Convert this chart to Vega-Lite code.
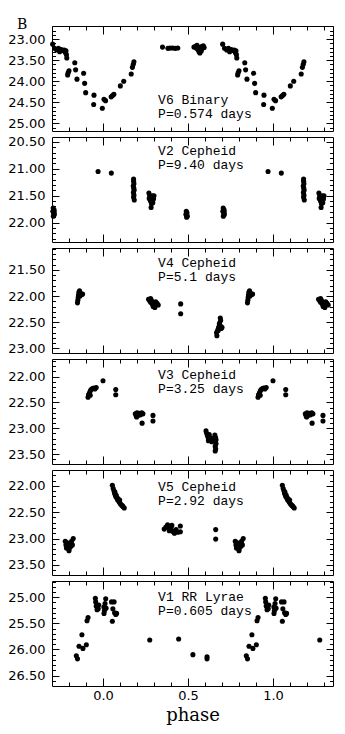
{
"$schema":"https://vega.github.io/schema/vega-lite/v6.json",
"padding":{"left":7,"top":18,"right":5,"bottom":5},
"title":{"text":"B","anchor":"start","frame":"group","font":"DejaVu Serif","fontSize":14,"fontWeight":"normal","color":"black","dx":-35,"offset":-7},
"config":{"view":{"stroke":"black","strokeWidth":1},"axis":{"domain":false,"grid":false,"tickColor":"black","tickWidth":1,"labelColor":"black","labelFont":"DejaVu Sans","labelFontSize":13,"labelOverlap":false}},
"spacing":6,
"bounds":"flush",
"datasets":{
"labels":[
{"panel":"V6","phase":0.324,"mag":24.54,"label":"V6 Binary\nP=0.574 days"},
{"panel":"V2","phase":0.324,"mag":20.75,"label":"V2 Cepheid\nP=9.40 days"},
{"panel":"V4","phase":0.324,"mag":21.45,"label":"V4 Cepheid\nP=5.1 days"},
{"panel":"V3","phase":0.324,"mag":22.05,"label":"V3 Cepheid\nP=3.25 days"},
{"panel":"V5","phase":0.324,"mag":22.09,"label":"V5 Cepheid\nP=2.92 days"},
{"panel":"V1","phase":0.324,"mag":25.08,"label":"V1 RR Lyrae\nP=0.605 days"}
],
"v6":[
{"phase":-0.296,"mag":23.12},{"phase":-0.285,"mag":23.22},{"phase":-0.272,"mag":23.26},{"phase":-0.262,"mag":23.22},{"phase":-0.255,"mag":23.30},{"phase":-0.245,"mag":23.25},{"phase":-0.236,"mag":23.27},{"phase":-0.228,"mag":23.26},{"phase":-0.222,"mag":23.32},{"phase":-0.218,"mag":23.28},{"phase":-0.215,"mag":23.37},{"phase":-0.213,"mag":23.45},{"phase":-0.208,"mag":23.85},{"phase":-0.205,"mag":23.80},{"phase":-0.200,"mag":23.75},{"phase":-0.166,"mag":23.56},{"phase":-0.161,"mag":23.73},{"phase":-0.153,"mag":23.95},{"phase":-0.114,"mag":23.81},{"phase":-0.108,"mag":24.05},{"phase":-0.102,"mag":24.27},{"phase":-0.053,"mag":24.33},{"phase":-0.055,"mag":24.55},{"phase":-0.004,"mag":24.64},{"phase":0.006,"mag":24.43},{"phase":0.015,"mag":24.46},{"phase":0.048,"mag":24.37},{"phase":0.056,"mag":24.34},{"phase":0.064,"mag":24.31},{"phase":0.102,"mag":24.11},{"phase":0.122,"mag":24.00},{"phase":0.166,"mag":23.83},{"phase":0.173,"mag":23.67},{"phase":0.178,"mag":23.60},{"phase":0.182,"mag":23.54},
{"phase":0.704,"mag":23.12},{"phase":0.715,"mag":23.22},{"phase":0.728,"mag":23.26},{"phase":0.738,"mag":23.22},{"phase":0.745,"mag":23.30},{"phase":0.755,"mag":23.25},{"phase":0.764,"mag":23.27},{"phase":0.772,"mag":23.26},{"phase":0.778,"mag":23.32},{"phase":0.782,"mag":23.28},{"phase":0.785,"mag":23.37},{"phase":0.787,"mag":23.45},{"phase":0.792,"mag":23.85},{"phase":0.795,"mag":23.80},{"phase":0.800,"mag":23.75},{"phase":0.834,"mag":23.56},{"phase":0.839,"mag":23.73},{"phase":0.847,"mag":23.95},{"phase":0.886,"mag":23.81},{"phase":0.892,"mag":24.05},{"phase":0.898,"mag":24.27},{"phase":0.947,"mag":24.33},{"phase":0.945,"mag":24.55},{"phase":0.996,"mag":24.64},{"phase":1.006,"mag":24.43},{"phase":1.015,"mag":24.46},{"phase":1.048,"mag":24.37},{"phase":1.056,"mag":24.34},{"phase":1.064,"mag":24.31},{"phase":1.102,"mag":24.11},{"phase":1.122,"mag":24.00},{"phase":1.166,"mag":23.83},{"phase":1.173,"mag":23.67},{"phase":1.178,"mag":23.60},{"phase":1.182,"mag":23.54},
{"phase":0.350,"mag":23.19},{"phase":0.382,"mag":23.22},{"phase":0.395,"mag":23.21},{"phase":0.410,"mag":23.21},{"phase":0.425,"mag":23.22},{"phase":0.440,"mag":23.21},
{"phase":0.535,"mag":23.19},{"phase":0.545,"mag":23.17},{"phase":0.550,"mag":23.22},{"phase":0.557,"mag":23.20},{"phase":0.560,"mag":23.26},{"phase":0.565,"mag":23.30},{"phase":0.570,"mag":23.33},{"phase":0.575,"mag":23.25},{"phase":0.580,"mag":23.18},{"phase":0.585,"mag":23.22},{"phase":0.590,"mag":23.16},{"phase":0.595,"mag":23.20},{"phase":0.570,"mag":23.20},{"phase":0.553,"mag":23.15},{"phase":0.578,"mag":23.28}
],
"v2":[
{"phase":-0.293,"mag":21.73},{"phase":-0.288,"mag":21.76},{"phase":-0.295,"mag":21.79},{"phase":-0.290,"mag":21.82},{"phase":-0.286,"mag":21.85},{"phase":-0.292,"mag":21.88},{"phase":-0.287,"mag":21.80},
{"phase":0.707,"mag":21.73},{"phase":0.712,"mag":21.76},{"phase":0.705,"mag":21.79},{"phase":0.710,"mag":21.82},{"phase":0.714,"mag":21.85},{"phase":0.708,"mag":21.88},{"phase":0.713,"mag":21.80},
{"phase":-0.029,"mag":21.05},{"phase":0.971,"mag":21.05},{"phase":0.049,"mag":21.08},{"phase":1.049,"mag":21.08},
{"phase":0.180,"mag":21.19},{"phase":0.180,"mag":21.23},{"phase":0.182,"mag":21.28},{"phase":0.178,"mag":21.32},{"phase":0.181,"mag":21.36},{"phase":0.183,"mag":21.40},{"phase":0.179,"mag":21.44},{"phase":0.182,"mag":21.49},{"phase":0.180,"mag":21.53},{"phase":0.184,"mag":21.58},
{"phase":1.180,"mag":21.19},{"phase":1.180,"mag":21.23},{"phase":1.182,"mag":21.28},{"phase":1.178,"mag":21.32},{"phase":1.181,"mag":21.36},{"phase":1.183,"mag":21.40},{"phase":1.179,"mag":21.44},{"phase":1.182,"mag":21.49},{"phase":1.180,"mag":21.53},{"phase":1.184,"mag":21.58},
{"phase":0.270,"mag":21.45},{"phase":0.275,"mag":21.50},{"phase":0.272,"mag":21.55},{"phase":0.280,"mag":21.60},{"phase":0.285,"mag":21.65},{"phase":0.290,"mag":21.50},{"phase":0.297,"mag":21.56},{"phase":0.293,"mag":21.63},{"phase":0.283,"mag":21.72},{"phase":0.278,"mag":21.58},{"phase":0.300,"mag":21.50},
{"phase":1.270,"mag":21.45},{"phase":1.275,"mag":21.50},{"phase":1.272,"mag":21.55},{"phase":1.280,"mag":21.60},{"phase":1.285,"mag":21.65},{"phase":1.290,"mag":21.50},{"phase":1.297,"mag":21.56},{"phase":1.293,"mag":21.63},{"phase":1.283,"mag":21.72},{"phase":1.278,"mag":21.58},{"phase":1.300,"mag":21.50},
{"phase":0.490,"mag":21.79},{"phase":0.494,"mag":21.82},{"phase":0.488,"mag":21.85},{"phase":0.496,"mag":21.88},{"phase":0.492,"mag":21.90},{"phase":0.490,"mag":21.84}
],
"v4":[
{"phase":-0.150,"mag":22.13},{"phase":-0.148,"mag":22.08},{"phase":-0.146,"mag":22.03},{"phase":-0.144,"mag":21.98},{"phase":-0.142,"mag":21.93},{"phase":-0.138,"mag":21.90},{"phase":-0.130,"mag":21.95},{"phase":-0.125,"mag":21.97},{"phase":-0.120,"mag":21.96},{"phase":-0.135,"mag":22.00},
{"phase":0.850,"mag":22.13},{"phase":0.852,"mag":22.08},{"phase":0.854,"mag":22.03},{"phase":0.856,"mag":21.98},{"phase":0.858,"mag":21.93},{"phase":0.862,"mag":21.90},{"phase":0.870,"mag":21.95},{"phase":0.875,"mag":21.97},{"phase":0.880,"mag":21.96},{"phase":0.865,"mag":22.00},
{"phase":0.268,"mag":22.06},{"phase":0.275,"mag":22.09},{"phase":0.280,"mag":22.12},{"phase":0.285,"mag":22.08},{"phase":0.290,"mag":22.15},{"phase":0.295,"mag":22.20},{"phase":0.300,"mag":22.13},{"phase":0.310,"mag":22.11},{"phase":0.318,"mag":22.14},{"phase":0.325,"mag":22.17},{"phase":0.305,"mag":22.22},{"phase":0.280,"mag":22.05},
{"phase":1.268,"mag":22.06},{"phase":1.275,"mag":22.09},{"phase":1.280,"mag":22.12},{"phase":1.285,"mag":22.08},{"phase":1.290,"mag":22.15},{"phase":1.295,"mag":22.20},{"phase":1.300,"mag":22.13},{"phase":1.310,"mag":22.11},{"phase":1.318,"mag":22.14},{"phase":1.325,"mag":22.17},{"phase":1.305,"mag":22.22},{"phase":1.280,"mag":22.05},
{"phase":0.457,"mag":22.15},{"phase":0.457,"mag":22.34},
{"phase":0.690,"mag":22.42},{"phase":0.692,"mag":22.47},{"phase":0.685,"mag":22.52},{"phase":0.690,"mag":22.57},{"phase":0.680,"mag":22.60},{"phase":0.695,"mag":22.62},{"phase":0.675,"mag":22.65},{"phase":0.668,"mag":22.70},{"phase":0.670,"mag":22.76},{"phase":0.700,"mag":22.60},{"phase":0.685,"mag":22.55},{"phase":0.678,"mag":22.66}
],
"v3":[
{"phase":-0.088,"mag":22.40},{"phase":-0.085,"mag":22.35},{"phase":-0.080,"mag":22.32},{"phase":-0.075,"mag":22.28},{"phase":-0.070,"mag":22.25},{"phase":-0.062,"mag":22.23},{"phase":-0.055,"mag":22.22},{"phase":-0.048,"mag":22.24},{"phase":-0.040,"mag":22.21},{"phase":-0.075,"mag":22.36},
{"phase":0.912,"mag":22.40},{"phase":0.915,"mag":22.35},{"phase":0.920,"mag":22.32},{"phase":0.925,"mag":22.28},{"phase":0.930,"mag":22.25},{"phase":0.938,"mag":22.23},{"phase":0.945,"mag":22.22},{"phase":0.952,"mag":22.24},{"phase":0.960,"mag":22.21},{"phase":0.925,"mag":22.36},
{"phase":0.000,"mag":22.08},{"phase":1.000,"mag":22.08},
{"phase":0.075,"mag":22.25},{"phase":0.075,"mag":22.35},{"phase":1.075,"mag":22.25},{"phase":1.075,"mag":22.35},
{"phase":0.190,"mag":22.72},{"phase":0.195,"mag":22.76},{"phase":0.200,"mag":22.70},{"phase":0.205,"mag":22.75},{"phase":0.212,"mag":22.71},{"phase":0.220,"mag":22.74},{"phase":0.228,"mag":22.70},{"phase":0.235,"mag":22.72},{"phase":0.198,"mag":22.78},{"phase":0.230,"mag":22.90},
{"phase":1.190,"mag":22.72},{"phase":1.195,"mag":22.76},{"phase":1.200,"mag":22.70},{"phase":1.205,"mag":22.75},{"phase":1.212,"mag":22.71},{"phase":1.220,"mag":22.74},{"phase":1.228,"mag":22.70},{"phase":1.235,"mag":22.72},{"phase":1.198,"mag":22.78},{"phase":1.230,"mag":22.90},
{"phase":0.294,"mag":22.75},{"phase":0.294,"mag":22.86},{"phase":1.294,"mag":22.75},{"phase":1.294,"mag":22.86},
{"phase":0.606,"mag":23.05},{"phase":0.610,"mag":23.10},{"phase":0.615,"mag":23.15},{"phase":0.620,"mag":23.20},{"phase":0.625,"mag":23.12},{"phase":0.630,"mag":23.18},{"phase":0.635,"mag":23.22},{"phase":0.640,"mag":23.26},{"phase":0.648,"mag":23.20},{"phase":0.620,"mag":23.24},{"phase":0.658,"mag":23.13},{"phase":0.662,"mag":23.18},{"phase":0.660,"mag":23.25},{"phase":0.665,"mag":23.30},{"phase":0.660,"mag":23.35},{"phase":0.663,"mag":23.40},{"phase":0.660,"mag":23.44},{"phase":0.665,"mag":23.22}
],
"v5":[
{"phase":-0.222,"mag":23.05},{"phase":-0.218,"mag":23.12},{"phase":-0.215,"mag":23.18},{"phase":-0.210,"mag":23.08},{"phase":-0.205,"mag":23.14},{"phase":-0.200,"mag":23.20},{"phase":-0.195,"mag":23.10},{"phase":-0.190,"mag":23.15},{"phase":-0.185,"mag":23.05},{"phase":-0.180,"mag":23.12},{"phase":-0.175,"mag":23.00},{"phase":-0.200,"mag":23.23},
{"phase":0.778,"mag":23.05},{"phase":0.782,"mag":23.12},{"phase":0.785,"mag":23.18},{"phase":0.790,"mag":23.08},{"phase":0.795,"mag":23.14},{"phase":0.800,"mag":23.20},{"phase":0.805,"mag":23.10},{"phase":0.810,"mag":23.15},{"phase":0.815,"mag":23.05},{"phase":0.820,"mag":23.12},{"phase":0.825,"mag":23.00},{"phase":0.800,"mag":23.23},
{"phase":0.055,"mag":21.99},{"phase":0.060,"mag":22.05},{"phase":0.065,"mag":22.10},{"phase":0.068,"mag":22.14},{"phase":0.072,"mag":22.17},{"phase":0.075,"mag":22.20},{"phase":0.080,"mag":22.22},{"phase":0.085,"mag":22.26},{"phase":0.090,"mag":22.28},{"phase":0.095,"mag":22.30},{"phase":0.100,"mag":22.33},{"phase":0.105,"mag":22.35},{"phase":0.110,"mag":22.37},{"phase":0.115,"mag":22.38},{"phase":0.120,"mag":22.40},{"phase":0.125,"mag":22.42},{"phase":0.070,"mag":22.12},{"phase":0.078,"mag":22.18},{"phase":0.088,"mag":22.24},{"phase":0.098,"mag":22.27},
{"phase":1.055,"mag":21.99},{"phase":1.060,"mag":22.05},{"phase":1.065,"mag":22.10},{"phase":1.068,"mag":22.14},{"phase":1.072,"mag":22.17},{"phase":1.075,"mag":22.20},{"phase":1.080,"mag":22.22},{"phase":1.085,"mag":22.26},{"phase":1.090,"mag":22.28},{"phase":1.095,"mag":22.30},{"phase":1.100,"mag":22.33},{"phase":1.105,"mag":22.35},{"phase":1.110,"mag":22.37},{"phase":1.115,"mag":22.38},{"phase":1.120,"mag":22.40},{"phase":1.125,"mag":22.42},{"phase":1.070,"mag":22.12},{"phase":1.078,"mag":22.18},{"phase":1.088,"mag":22.24},{"phase":1.098,"mag":22.27},
{"phase":0.360,"mag":22.82},{"phase":0.370,"mag":22.78},{"phase":0.380,"mag":22.74},{"phase":0.385,"mag":22.79},{"phase":0.390,"mag":22.85},{"phase":0.400,"mag":22.80},{"phase":0.410,"mag":22.86},{"phase":0.420,"mag":22.90},{"phase":0.430,"mag":22.83},{"phase":0.440,"mag":22.88},{"phase":0.455,"mag":22.76},{"phase":0.455,"mag":22.87},{"phase":0.405,"mag":22.75},
{"phase":0.663,"mag":22.83},{"phase":0.663,"mag":23.01}
],
"v1":[
{"phase":-0.157,"mag":26.12},{"phase":-0.150,"mag":26.18},{"phase":-0.141,"mag":25.94},{"phase":-0.124,"mag":25.72},{"phase":-0.118,"mag":25.98},{"phase":-0.098,"mag":25.91},{"phase":-0.094,"mag":25.45},{"phase":-0.088,"mag":25.39},{"phase":-0.045,"mag":25.02},{"phase":-0.043,"mag":25.09},{"phase":-0.040,"mag":25.17},{"phase":-0.035,"mag":25.24},{"phase":-0.028,"mag":25.22},{"phase":-0.025,"mag":25.15},{"phase":0.016,"mag":25.03},{"phase":0.012,"mag":25.12},{"phase":0.005,"mag":25.19},{"phase":0.008,"mag":25.26},{"phase":0.006,"mag":25.31},{"phase":0.018,"mag":25.21},{"phase":0.050,"mag":25.09},{"phase":0.065,"mag":25.09},{"phase":0.058,"mag":25.22},{"phase":0.055,"mag":25.46},{"phase":0.068,"mag":25.30},{"phase":0.075,"mag":25.33},{"phase":0.080,"mag":25.31},
{"phase":0.843,"mag":26.12},{"phase":0.850,"mag":26.18},{"phase":0.859,"mag":25.94},{"phase":0.876,"mag":25.72},{"phase":0.882,"mag":25.98},{"phase":0.902,"mag":25.91},{"phase":0.906,"mag":25.45},{"phase":0.912,"mag":25.39},{"phase":0.955,"mag":25.02},{"phase":0.957,"mag":25.09},{"phase":0.960,"mag":25.17},{"phase":0.965,"mag":25.24},{"phase":0.972,"mag":25.22},{"phase":0.975,"mag":25.15},{"phase":1.016,"mag":25.03},{"phase":1.012,"mag":25.12},{"phase":1.005,"mag":25.19},{"phase":1.008,"mag":25.26},{"phase":1.006,"mag":25.31},{"phase":1.018,"mag":25.21},{"phase":1.050,"mag":25.09},{"phase":1.065,"mag":25.09},{"phase":1.058,"mag":25.22},{"phase":1.055,"mag":25.46},{"phase":1.068,"mag":25.30},{"phase":1.075,"mag":25.33},{"phase":1.080,"mag":25.31},
{"phase":0.275,"mag":25.82},{"phase":1.275,"mag":25.82},{"phase":0.445,"mag":25.80},{"phase":0.529,"mag":26.10},{"phase":0.612,"mag":26.14},{"phase":0.612,"mag":26.18}
]
},
"vconcat":[
{"width":281,"height":105,"resolve":{"axis":{"x":"independent","y":"independent"}},
"layer":[
{"data":{"name":"v6"},"mark":{"type":"circle","size":26,"color":"black","opacity":1},
"encoding":{
"x":{"field":"phase","type":"quantitative","scale":{"domain":[-0.3,1.353],"nice":false,"zero":false},"axis":{"orient":"bottom","values":[-0.2,-0.1,0,0.1,0.2,0.3,0.4,0.5,0.6,0.7,0.8,0.9,1,1.1,1.2,1.3],"labels":false,"title":null,"tickSize":{"condition":{"test":"abs(datum.value*2-round(datum.value*2))<0.001","value":-8},"value":-4}}},
"y":{"field":"mag","type":"quantitative","scale":{"domain":[22.69,25.18],"nice":false,"zero":false,"reverse":true},"axis":{"orient":"left","values":[22.7,22.8,22.9,23.0,23.1,23.2,23.3,23.4,23.5,23.6,23.7,23.8,23.9,24.0,24.1,24.2,24.3,24.4,24.5,24.6,24.7,24.8,24.9,25.0,25.1],"labels":false,"title":null,"tickSize":{"condition":{"test":"abs(datum.value*2-round(datum.value*2))<0.001","value":-7},"value":-3.5}}}}},
{"data":{"name":"labels"},"transform":[{"filter":"datum.panel == 'V6'"}],"mark":{"type":"text","align":"left","baseline":"alphabetic","font":"Liberation Mono","fontSize":13,"lineBreak":"\n","lineHeight":14,"color":"black"},
"encoding":{
"x":{"field":"phase","type":"quantitative","axis":{"orient":"top","values":[-0.2,-0.1,0,0.1,0.2,0.3,0.4,0.5,0.6,0.7,0.8,0.9,1,1.1,1.2,1.3],"labels":false,"title":null,"tickSize":{"condition":{"test":"abs(datum.value*2-round(datum.value*2))<0.001","value":-8},"value":-4}}},
"y":{"field":"mag","type":"quantitative","axis":{"orient":"right","values":[22.7,22.8,22.9,23.0,23.1,23.2,23.3,23.4,23.5,23.6,23.7,23.8,23.9,24.0,24.1,24.2,24.3,24.4,24.5,24.6,24.7,24.8,24.9,25.0,25.1],"labels":false,"title":null,"tickSize":{"condition":{"test":"abs(datum.value*2-round(datum.value*2))<0.001","value":-7},"value":-3.5}}},
"text":{"field":"label"}}},
{"data":{"name":"labels"},"transform":[{"filter":"datum.panel == 'V6'"}],"mark":{"type":"text","opacity":0},
"encoding":{
"x":{"field":"phase","type":"quantitative","axis":null},
"y":{"field":"mag","type":"quantitative","axis":{"orient":"left","values":[23.0,23.5,24.0,24.5,25.0],"format":".2f","ticks":false,"labelPadding":7,"title":null}},
"text":{"field":"label"}}}
]},
{"width":281,"height":105,"resolve":{"axis":{"x":"independent","y":"independent"}},
"layer":[
{"data":{"name":"v2"},"mark":{"type":"circle","size":26,"color":"black","opacity":1},
"encoding":{
"x":{"field":"phase","type":"quantitative","scale":{"domain":[-0.3,1.353],"nice":false,"zero":false},"axis":{"orient":"bottom","values":[-0.2,-0.1,0,0.1,0.2,0.3,0.4,0.5,0.6,0.7,0.8,0.9,1,1.1,1.2,1.3],"labels":false,"title":null,"tickSize":{"condition":{"test":"abs(datum.value*2-round(datum.value*2))<0.001","value":-8},"value":-4}}},
"y":{"field":"mag","type":"quantitative","scale":{"domain":[20.41,22.36],"nice":false,"zero":false,"reverse":true},"axis":{"orient":"left","values":[20.5,20.6,20.7,20.8,20.9,21.0,21.1,21.2,21.3,21.4,21.5,21.6,21.7,21.8,21.9,22.0,22.1,22.2,22.3],"labels":false,"title":null,"tickSize":{"condition":{"test":"abs(datum.value*2-round(datum.value*2))<0.001","value":-7},"value":-3.5}}}}},
{"data":{"name":"labels"},"transform":[{"filter":"datum.panel == 'V2'"}],"mark":{"type":"text","align":"left","baseline":"alphabetic","font":"Liberation Mono","fontSize":13,"lineBreak":"\n","lineHeight":14,"color":"black"},
"encoding":{
"x":{"field":"phase","type":"quantitative","axis":{"orient":"top","values":[-0.2,-0.1,0,0.1,0.2,0.3,0.4,0.5,0.6,0.7,0.8,0.9,1,1.1,1.2,1.3],"labels":false,"title":null,"tickSize":{"condition":{"test":"abs(datum.value*2-round(datum.value*2))<0.001","value":-8},"value":-4}}},
"y":{"field":"mag","type":"quantitative","axis":{"orient":"right","values":[20.5,20.6,20.7,20.8,20.9,21.0,21.1,21.2,21.3,21.4,21.5,21.6,21.7,21.8,21.9,22.0,22.1,22.2,22.3],"labels":false,"title":null,"tickSize":{"condition":{"test":"abs(datum.value*2-round(datum.value*2))<0.001","value":-7},"value":-3.5}}},
"text":{"field":"label"}}},
{"data":{"name":"labels"},"transform":[{"filter":"datum.panel == 'V2'"}],"mark":{"type":"text","opacity":0},
"encoding":{
"x":{"field":"phase","type":"quantitative","axis":null},
"y":{"field":"mag","type":"quantitative","axis":{"orient":"left","values":[20.5,21.0,21.5,22.0],"format":".2f","ticks":false,"labelPadding":7,"title":null}},
"text":{"field":"label"}}}
]},
{"width":281,"height":105,"resolve":{"axis":{"x":"independent","y":"independent"}},
"layer":[
{"data":{"name":"v4"},"mark":{"type":"circle","size":26,"color":"black","opacity":1},
"encoding":{
"x":{"field":"phase","type":"quantitative","scale":{"domain":[-0.3,1.353],"nice":false,"zero":false},"axis":{"orient":"bottom","values":[-0.2,-0.1,0,0.1,0.2,0.3,0.4,0.5,0.6,0.7,0.8,0.9,1,1.1,1.2,1.3],"labels":false,"title":null,"tickSize":{"condition":{"test":"abs(datum.value*2-round(datum.value*2))<0.001","value":-8},"value":-4}}},
"y":{"field":"mag","type":"quantitative","scale":{"domain":[21.08,23.09],"nice":false,"zero":false,"reverse":true},"axis":{"orient":"left","values":[21.1,21.2,21.3,21.4,21.5,21.6,21.7,21.8,21.9,22.0,22.1,22.2,22.3,22.4,22.5,22.6,22.7,22.8,22.9,23.0],"labels":false,"title":null,"tickSize":{"condition":{"test":"abs(datum.value*2-round(datum.value*2))<0.001","value":-7},"value":-3.5}}}}},
{"data":{"name":"labels"},"transform":[{"filter":"datum.panel == 'V4'"}],"mark":{"type":"text","align":"left","baseline":"alphabetic","font":"Liberation Mono","fontSize":13,"lineBreak":"\n","lineHeight":14,"color":"black"},
"encoding":{
"x":{"field":"phase","type":"quantitative","axis":{"orient":"top","values":[-0.2,-0.1,0,0.1,0.2,0.3,0.4,0.5,0.6,0.7,0.8,0.9,1,1.1,1.2,1.3],"labels":false,"title":null,"tickSize":{"condition":{"test":"abs(datum.value*2-round(datum.value*2))<0.001","value":-8},"value":-4}}},
"y":{"field":"mag","type":"quantitative","axis":{"orient":"right","values":[21.1,21.2,21.3,21.4,21.5,21.6,21.7,21.8,21.9,22.0,22.1,22.2,22.3,22.4,22.5,22.6,22.7,22.8,22.9,23.0],"labels":false,"title":null,"tickSize":{"condition":{"test":"abs(datum.value*2-round(datum.value*2))<0.001","value":-7},"value":-3.5}}},
"text":{"field":"label"}}},
{"data":{"name":"labels"},"transform":[{"filter":"datum.panel == 'V4'"}],"mark":{"type":"text","opacity":0},
"encoding":{
"x":{"field":"phase","type":"quantitative","axis":null},
"y":{"field":"mag","type":"quantitative","axis":{"orient":"left","values":[21.5,22.0,22.5,23.0],"format":".2f","ticks":false,"labelPadding":7,"title":null}},
"text":{"field":"label"}}}
]},
{"width":281,"height":105,"resolve":{"axis":{"x":"independent","y":"independent"}},
"layer":[
{"data":{"name":"v3"},"mark":{"type":"circle","size":26,"color":"black","opacity":1},
"encoding":{
"x":{"field":"phase","type":"quantitative","scale":{"domain":[-0.3,1.353],"nice":false,"zero":false},"axis":{"orient":"bottom","values":[-0.2,-0.1,0,0.1,0.2,0.3,0.4,0.5,0.6,0.7,0.8,0.9,1,1.1,1.2,1.3],"labels":false,"title":null,"tickSize":{"condition":{"test":"abs(datum.value*2-round(datum.value*2))<0.001","value":-8},"value":-4}}},
"y":{"field":"mag","type":"quantitative","scale":{"domain":[21.66,23.69],"nice":false,"zero":false,"reverse":true},"axis":{"orient":"left","values":[21.7,21.8,21.9,22.0,22.1,22.2,22.3,22.4,22.5,22.6,22.7,22.8,22.9,23.0,23.1,23.2,23.3,23.4,23.5,23.6],"labels":false,"title":null,"tickSize":{"condition":{"test":"abs(datum.value*2-round(datum.value*2))<0.001","value":-7},"value":-3.5}}}}},
{"data":{"name":"labels"},"transform":[{"filter":"datum.panel == 'V3'"}],"mark":{"type":"text","align":"left","baseline":"alphabetic","font":"Liberation Mono","fontSize":13,"lineBreak":"\n","lineHeight":14,"color":"black"},
"encoding":{
"x":{"field":"phase","type":"quantitative","axis":{"orient":"top","values":[-0.2,-0.1,0,0.1,0.2,0.3,0.4,0.5,0.6,0.7,0.8,0.9,1,1.1,1.2,1.3],"labels":false,"title":null,"tickSize":{"condition":{"test":"abs(datum.value*2-round(datum.value*2))<0.001","value":-8},"value":-4}}},
"y":{"field":"mag","type":"quantitative","axis":{"orient":"right","values":[21.7,21.8,21.9,22.0,22.1,22.2,22.3,22.4,22.5,22.6,22.7,22.8,22.9,23.0,23.1,23.2,23.3,23.4,23.5,23.6],"labels":false,"title":null,"tickSize":{"condition":{"test":"abs(datum.value*2-round(datum.value*2))<0.001","value":-7},"value":-3.5}}},
"text":{"field":"label"}}},
{"data":{"name":"labels"},"transform":[{"filter":"datum.panel == 'V3'"}],"mark":{"type":"text","opacity":0},
"encoding":{
"x":{"field":"phase","type":"quantitative","axis":null},
"y":{"field":"mag","type":"quantitative","axis":{"orient":"left","values":[22.0,22.5,23.0,23.5],"format":".2f","ticks":false,"labelPadding":7,"title":null}},
"text":{"field":"label"}}}
]},
{"width":281,"height":105,"resolve":{"axis":{"x":"independent","y":"independent"}},
"layer":[
{"data":{"name":"v5"},"mark":{"type":"circle","size":26,"color":"black","opacity":1},
"encoding":{
"x":{"field":"phase","type":"quantitative","scale":{"domain":[-0.3,1.353],"nice":false,"zero":false},"axis":{"orient":"bottom","values":[-0.2,-0.1,0,0.1,0.2,0.3,0.4,0.5,0.6,0.7,0.8,0.9,1,1.1,1.2,1.3],"labels":false,"title":null,"tickSize":{"condition":{"test":"abs(datum.value*2-round(datum.value*2))<0.001","value":-8},"value":-4}}},
"y":{"field":"mag","type":"quantitative","scale":{"domain":[21.7,23.69],"nice":false,"zero":false,"reverse":true},"axis":{"orient":"left","values":[21.8,21.9,22.0,22.1,22.2,22.3,22.4,22.5,22.6,22.7,22.8,22.9,23.0,23.1,23.2,23.3,23.4,23.5,23.6],"labels":false,"title":null,"tickSize":{"condition":{"test":"abs(datum.value*2-round(datum.value*2))<0.001","value":-7},"value":-3.5}}}}},
{"data":{"name":"labels"},"transform":[{"filter":"datum.panel == 'V5'"}],"mark":{"type":"text","align":"left","baseline":"alphabetic","font":"Liberation Mono","fontSize":13,"lineBreak":"\n","lineHeight":14,"color":"black"},
"encoding":{
"x":{"field":"phase","type":"quantitative","axis":{"orient":"top","values":[-0.2,-0.1,0,0.1,0.2,0.3,0.4,0.5,0.6,0.7,0.8,0.9,1,1.1,1.2,1.3],"labels":false,"title":null,"tickSize":{"condition":{"test":"abs(datum.value*2-round(datum.value*2))<0.001","value":-8},"value":-4}}},
"y":{"field":"mag","type":"quantitative","axis":{"orient":"right","values":[21.8,21.9,22.0,22.1,22.2,22.3,22.4,22.5,22.6,22.7,22.8,22.9,23.0,23.1,23.2,23.3,23.4,23.5,23.6],"labels":false,"title":null,"tickSize":{"condition":{"test":"abs(datum.value*2-round(datum.value*2))<0.001","value":-7},"value":-3.5}}},
"text":{"field":"label"}}},
{"data":{"name":"labels"},"transform":[{"filter":"datum.panel == 'V5'"}],"mark":{"type":"text","opacity":0},
"encoding":{
"x":{"field":"phase","type":"quantitative","axis":null},
"y":{"field":"mag","type":"quantitative","axis":{"orient":"left","values":[22.0,22.5,23.0,23.5],"format":".2f","ticks":false,"labelPadding":7,"title":null}},
"text":{"field":"label"}}}
]},
{"width":281,"height":105,"resolve":{"axis":{"x":"independent","y":"independent"}},
"layer":[
{"data":{"name":"v1"},"mark":{"type":"circle","size":26,"color":"black","opacity":1},
"encoding":{
"x":{"field":"phase","type":"quantitative","scale":{"domain":[-0.3,1.353],"nice":false,"zero":false},"axis":{"orient":"bottom","values":[-0.2,-0.1,0,0.1,0.2,0.3,0.4,0.5,0.6,0.7,0.8,0.9,1,1.1,1.2,1.3],"labels":false,"title":null,"tickSize":{"condition":{"test":"abs(datum.value*2-round(datum.value*2))<0.001","value":-8},"value":-4}}},
"y":{"field":"mag","type":"quantitative","scale":{"domain":[24.69,26.7],"nice":false,"zero":false,"reverse":true},"axis":{"orient":"left","values":[24.7,24.8,24.9,25.0,25.1,25.2,25.3,25.4,25.5,25.6,25.7,25.8,25.9,26.0,26.1,26.2,26.3,26.4,26.5,26.6],"labels":false,"title":null,"tickSize":{"condition":{"test":"abs(datum.value*2-round(datum.value*2))<0.001","value":-7},"value":-3.5}}}}},
{"data":{"name":"labels"},"transform":[{"filter":"datum.panel == 'V1'"}],"mark":{"type":"text","align":"left","baseline":"alphabetic","font":"Liberation Mono","fontSize":13,"lineBreak":"\n","lineHeight":14,"color":"black"},
"encoding":{
"x":{"field":"phase","type":"quantitative","axis":{"orient":"top","values":[-0.2,-0.1,0,0.1,0.2,0.3,0.4,0.5,0.6,0.7,0.8,0.9,1,1.1,1.2,1.3],"labels":false,"title":null,"tickSize":{"condition":{"test":"abs(datum.value*2-round(datum.value*2))<0.001","value":-8},"value":-4}}},
"y":{"field":"mag","type":"quantitative","axis":{"orient":"right","values":[24.7,24.8,24.9,25.0,25.1,25.2,25.3,25.4,25.5,25.6,25.7,25.8,25.9,26.0,26.1,26.2,26.3,26.4,26.5,26.6],"labels":false,"title":null,"tickSize":{"condition":{"test":"abs(datum.value*2-round(datum.value*2))<0.001","value":-7},"value":-3.5}}},
"text":{"field":"label"}}},
{"data":{"name":"labels"},"transform":[{"filter":"datum.panel == 'V1'"}],"mark":{"type":"text","opacity":0},
"encoding":{
"x":{"field":"phase","type":"quantitative","axis":{"orient":"bottom","values":[0,0.5,1],"format":".1f","ticks":false,"labelPadding":3,"title":"phase","titleFont":"DejaVu Serif","titleFontSize":18,"titleFontWeight":"normal","titleColor":"black","titlePadding":4}},
"y":{"field":"mag","type":"quantitative","axis":{"orient":"left","values":[25.0,25.5,26.0,26.5],"format":".2f","ticks":false,"labelPadding":7,"title":null}},
"text":{"field":"label"}}}
]}
]
}
